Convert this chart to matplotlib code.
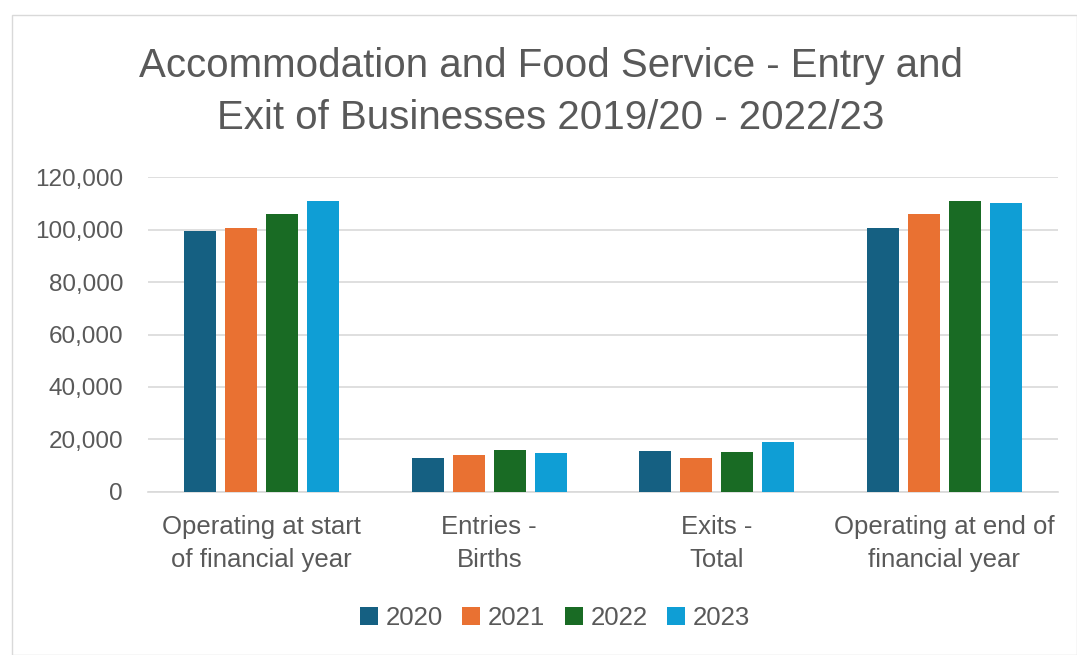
import numpy as np
import matplotlib.pyplot as plt
from matplotlib.patches import Rectangle

categories = ["Operating at start\nof financial year", "Entries -\nBirths",
              "Exits -\nTotal", "Operating at end of\nfinancial year"]
years = ["2020", "2021", "2022", "2023"]
v2020 = [99600, 13000, 15550, 100750]
v2021 = [100750, 14100, 12900, 106100]
v2022 = [106100, 16050, 15150, 110950]
v2023 = [110950, 14800, 18900, 110300]
colors = ["#156082", "#E97132", "#196B24", "#0F9ED5"]

text_col = "#595959"
plt.rcParams['font.family'] = ['Liberation Sans', 'DejaVu Sans']

fig = plt.figure(figsize=(10.77, 6.55), dpi=100)
fig.patches.append(Rectangle((12 / 1077, 0), 1 - 12 / 1077, 1 - 15 / 655,
                             transform=fig.transFigure, fill=False,
                             edgecolor="#d9d9d9", linewidth=1))

ax = fig.add_axes([148 / 1077, 1 - 491.7 / 655, 910 / 1077, (491.7 - 177.3) / 655])

x = np.arange(len(categories))
w = 0.14
step = 0.18
series = [v2020, v2021, v2022, v2023]
for i, (vals, c, yr) in enumerate(zip(series, colors, years)):
    ax.bar(x + (i - 1.5) * step, vals, width=w, color=c, label=yr, zorder=3)

ax.set_xlim(-0.5, 3.5)
ax.set_ylim(0, 120000)
ax.set_yticks(range(0, 120001, 20000))
ax.set_yticklabels([f"{v:,}" for v in range(0, 120001, 20000)])
ax.yaxis.grid(True, color="#d9d9d9", linewidth=1.2, zorder=0)
ax.set_axisbelow(True)
for s in ["top", "right", "left"]:
    ax.spines[s].set_visible(False)
ax.spines["bottom"].set_color("#d9d9d9")
ax.spines["bottom"].set_linewidth(1.2)
ax.tick_params(axis="y", length=0, labelsize=17.5, colors=text_col, pad=18)
ax.tick_params(axis="x", length=0, labelsize=18.5, colors=text_col, pad=17)
ax.set_xticks(x)
ax.set_xticklabels(categories, linespacing=1.45)

fig.text(551 / 1077, 1 - 92 / 655, "Accommodation and Food Service - Entry and\nExit of Businesses 2019/20 - 2022/23",
         ha="center", va="center", fontsize=29, color=text_col, linespacing=1.45)

leg = fig.legend(loc="center", bbox_to_anchor=(555 / 1077, 1 - 618 / 655), ncol=4,
                 frameon=False, fontsize=18.5, handlelength=0.7, handleheight=0.7,
                 handletextpad=0.3, columnspacing=0.75)
for t in leg.get_texts():
    t.set_color(text_col)

fig.savefig("out.png", dpi=100)
